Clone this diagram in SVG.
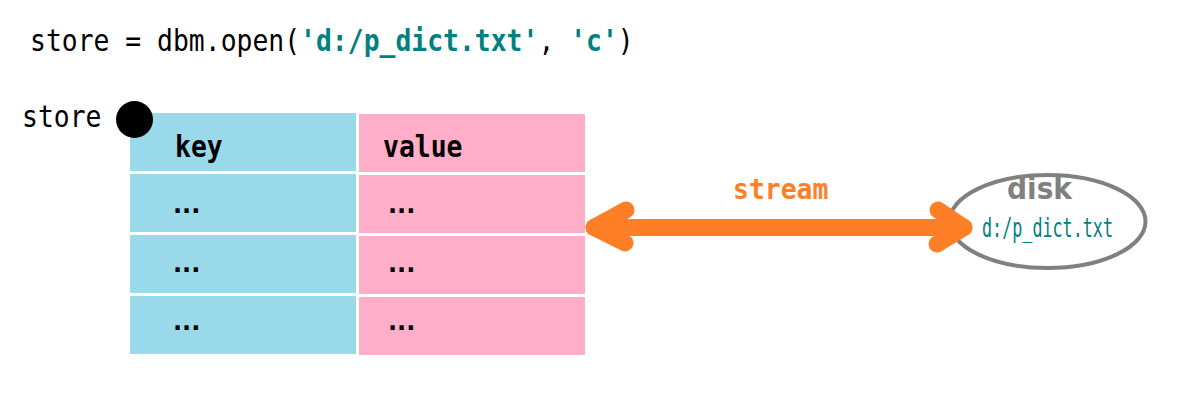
<svg xmlns="http://www.w3.org/2000/svg" width="1190" height="402" viewBox="0 0 1190 402">
<style>
.mono{font-family:"DejaVu Sans Mono","Liberation Mono",monospace;font-size:26.4px;fill:#000}
.b{font-weight:bold}
.teal{fill:#008080}
.key{fill:#99d9ea}
.val{fill:#ffaec9}
.dots{font-family:"DejaVu Sans","Liberation Sans",sans-serif;font-weight:bold;font-size:24px;fill:#000}
.arrow{fill:none;stroke:#ff7f27;stroke-width:17;stroke-linecap:round;stroke-linejoin:round}
</style>
<rect width="1190" height="402" fill="#fff"/>
<g id="code">
<text class="mono" transform="translate(30,51) scale(1,1.12)">store = dbm.open(<tspan class="b teal">'d:/p_dict.txt'</tspan>, <tspan class="b teal">'c'</tspan>)</text>
</g>
<g id="table">
<rect class="key" x="130" y="113" width="226" height="58"/>
<rect class="key" x="130" y="174" width="226" height="58"/>
<rect class="key" x="130" y="235" width="226" height="58"/>
<rect class="key" x="130" y="296" width="226" height="58"/>
<rect class="val" x="359" y="114" width="226" height="58"/>
<rect class="val" x="359" y="175" width="226" height="58"/>
<rect class="val" x="359" y="236" width="226" height="58"/>
<rect class="val" x="359" y="297" width="226" height="58"/>
<text class="mono b" transform="translate(175,157) scale(1,1.15)">key</text>
<text class="mono b" transform="translate(383,157) scale(1,1.15)">value</text>
<text class="dots" x="173" y="213">...</text>
<text class="dots" x="173" y="272">...</text>
<text class="dots" x="173" y="330">...</text>
<text class="dots" x="388" y="213">...</text>
<text class="dots" x="388" y="272">...</text>
<text class="dots" x="388" y="330">...</text>
</g>
<g id="store">
<text class="mono" transform="translate(22,127) scale(1,1.12)">store</text>
<circle cx="134.5" cy="119.5" r="18.5" fill="#000"/>
</g>
<g id="disk">
<ellipse cx="1047.5" cy="221.5" rx="98" ry="46.5" fill="#fff" stroke="#808080" stroke-width="4"/>
<text x="1007" y="199" textLength="65" lengthAdjust="spacingAndGlyphs" style="font-family:'DejaVu Sans','Liberation Sans',sans-serif;font-weight:bold;font-size:31px;fill:#808080">disk</text>
<text class="mono teal" x="982" y="237" textLength="131" lengthAdjust="spacingAndGlyphs" style="font-size:27px">d:/p_dict.txt</text>
</g>
<g id="connectors">
<line class="arrow" x1="594" y1="227.5" x2="964" y2="227.5"/>
<polyline class="arrow" points="626,210 594,227.5 625,243"/>
<polyline class="arrow" points="938,210 964,227.5 937,244"/>
<text class="mono b" transform="translate(733,199) scale(1,1.05)" style="fill:#ff7f27">stream</text>
</g>
</svg>
